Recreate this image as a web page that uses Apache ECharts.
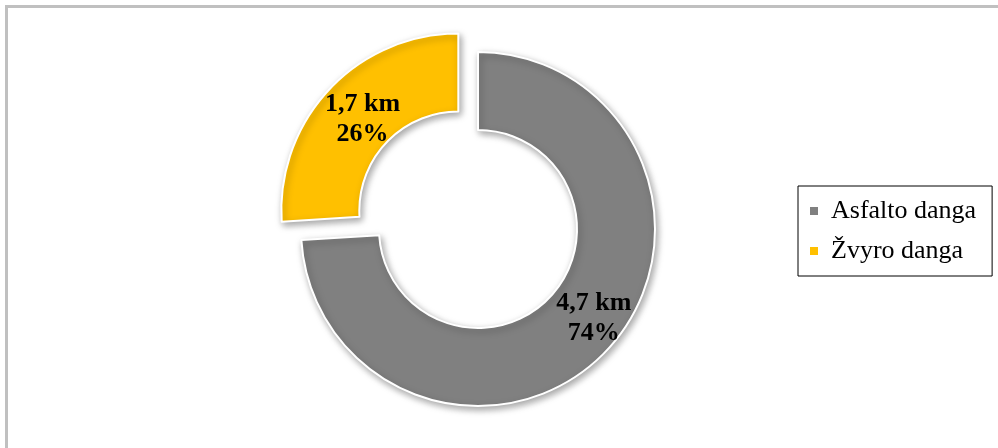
<!DOCTYPE html>
<html>
<head>
<meta charset="utf-8">
<script src="https://cdn.jsdelivr.net/npm/echarts@6/dist/echarts.min.js"></script>
<style>
  html, body { margin: 0; padding: 0; background: #ffffff; }
  #chart { width: 998px; height: 448px; }
</style>
</head>
<body>
<div id="chart"></div>
<script>
// Road surface breakdown
const categories = ['Asfalto danga', 'Žvyro danga'];
const lengthsKm = ['4,7', '1,7'];
const shares = [74, 26];
const colors = ['#808080', '#FFC000'];
// small nudges of the in-slice labels
const labelShift = [[13, -7], [7, 5]];

const chart = echarts.init(document.getElementById('chart'), null, { renderer: 'canvas' });

const pieData = categories.map((name, i) => ({
  name: name,
  value: shares[i],
  km: lengthsKm[i],
  selected: i === 1,
  itemStyle: { color: colors[i] },
  label: { offset: labelShift[i] },
  select: { label: { offset: labelShift[i] } }
}));

chart.setOption({
  animation: false,
  graphic: [{
    type: 'rect',
    shape: { x: 6.5, y: 6.5, width: 2000, height: 2000 },
    style: { fill: 'none', stroke: '#c0c0c0', lineWidth: 3 },
    silent: true
  }],
  legend: {
    orient: 'vertical',
    left: 798,
    top: 186,
    data: categories,
    icon: 'rect',
    itemWidth: 10,
    itemHeight: 10,
    itemGap: 14,
    padding: [12, 16, 12, 10],
    borderColor: '#000000',
    borderWidth: 1,
    selectedMode: false,
    textStyle: {
      fontFamily: 'Liberation Serif',
      fontSize: 26,
      lineHeight: 26,
      color: '#000000',
      padding: [0, 0, 0, 7]
    }
  },
  series: [{
    type: 'pie',
    center: [478, 229],
    radius: [99, 177],
    startAngle: 90,
    clockwise: true,
    selectedMode: 'single',
    selectedOffset: 27,
    emphasis: { disabled: true },
    itemStyle: {
      borderColor: '#ffffff',
      borderWidth: 2,
      shadowBlur: 7,
      shadowColor: 'rgba(0,0,0,0.35)',
      shadowOffsetX: 2,
      shadowOffsetY: 3
    },
    label: {
      show: true,
      position: 'inside',
      formatter: p => p.data.km + ' km\n' + p.value + '%',
      fontFamily: 'Liberation Serif',
      fontWeight: 'bold',
      fontSize: 26,
      lineHeight: 30,
      color: '#000000',
      align: 'center'
    },
    labelLine: { show: false },
    data: pieData
  }]
});
</script>
</body>
</html>
